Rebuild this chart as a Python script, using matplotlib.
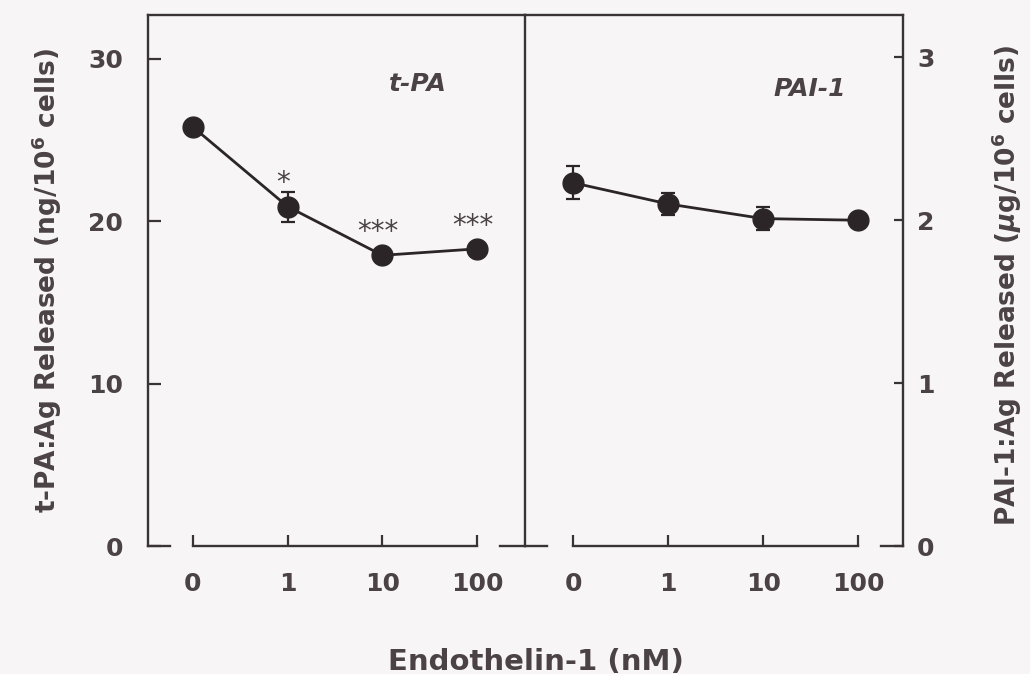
import matplotlib
matplotlib.use("Agg")
import matplotlib.pyplot as plt

# ---- data ----
conc_labels = ["0", "1", "10", "100"]
tpa_mean = [25.8, 20.9, 17.9, 18.3]
tpa_sem = [0.3, 0.92, 0.3, 0.25]
tpa_sig = ["", "*", "***", "***"]
pai_mean = [2.23, 2.10, 2.01, 2.00]
pai_sem = [0.10, 0.07, 0.07, 0.03]
tpa_yticks = [0, 10, 20, 30]
pai_yticks = [0, 1, 2, 3]

BG = "#f7f5f5"
TXT = "#4a4245"
LINE = "#3a3335"
MARK = "#2b2527"

plt.rcParams["font.family"] = ["DejaVu Sans"]
plt.rcParams["font.weight"] = "bold"

fig = plt.figure(figsize=(10.30, 6.74), dpi=100, facecolor=BG)
W, H = 1030, 674
x_left, x_mid, x_right = 148, 525, 903
y_top, y_bot = 15, 546
ax1 = fig.add_axes([x_left / W, 1 - y_bot / H, (x_mid - x_left) / W, (y_bot - y_top) / H])
ax2 = fig.add_axes([x_mid / W, 1 - y_bot / H, (x_right - x_mid) / W, (y_bot - y_top) / H])

xpos = list(range(len(conc_labels)))

for ax in (ax1, ax2):
    ax.set_facecolor("none")
    for s in ax.spines.values():
        s.set_color(LINE)
        s.set_linewidth(1.7)
    ax.spines["bottom"].set_visible(False)
    ax.set_xticks(xpos)
    ax.set_xticklabels(conc_labels)
    ax.tick_params(axis="x", direction="in", length=8, width=1.6, color=LINE,
                   labelsize=18, labelcolor=TXT, pad=19)

# left panel
ax1.set_xlim(-0.475, 3.506)
ax1.set_ylim(0, 32.7)
ax1.set_yticks(tpa_yticks)
ax1.tick_params(axis="y", direction="in", length=9.5, width=1.6, color=LINE,
                labelsize=18, labelcolor=TXT, pad=18)
ax1.errorbar(xpos, tpa_mean, yerr=tpa_sem, fmt="o-", color=MARK, ms=15,
             lw=2.0, elinewidth=1.6, capsize=5, capthick=1.6, zorder=3)
for i, (m, s) in enumerate(zip(tpa_mean, tpa_sig)):
    if s:
        ax1.annotate(s, xy=(i, m), xytext=(-3, 11), textcoords="offset points",
                     ha="center", va="baseline", fontsize=20, fontweight="normal",
                     color=TXT)
ax1.text(0.716, 0.87, "t-PA", transform=ax1.transAxes, ha="center", va="center",
         fontsize=18, fontweight="bold", fontstyle="italic", color=TXT)

# right panel
ax2.set_xlim(-0.505, 3.47)
ax2.set_ylim(0, 3.26)
ax2.spines["left"].set_visible(False)
ax2.yaxis.tick_right()
ax2.set_yticks(pai_yticks)
ax2.tick_params(axis="y", direction="in", length=6.5, width=1.6, color=LINE,
                labelsize=18, labelcolor=TXT, pad=10)
ax2.errorbar(xpos, pai_mean, yerr=pai_sem, fmt="o-", color=MARK, ms=15,
             lw=2.0, elinewidth=1.6, capsize=5, capthick=1.6, zorder=3)
ax2.text(0.754, 0.86, "PAI-1", transform=ax2.transAxes, ha="center", va="center",
         fontsize=18, fontweight="bold", fontstyle="italic", color=TXT)

# broken bottom axis segments
def seg(ax, a, b):
    ax.plot([a, b], [0, 0], transform=ax.get_xaxis_transform(), color=LINE,
            lw=1.7, clip_on=False, solid_capstyle="projecting", zorder=4)

lo1, hi1 = ax1.get_xlim()
seg(ax1, lo1, -0.243)
seg(ax1, 0, 3)
seg(ax1, 3.24, hi1)
lo2, hi2 = ax2.get_xlim()
seg(ax2, lo2, -0.27)
seg(ax2, 0, 3)
seg(ax2, 3.24, hi2)

# axis labels
fig.text(47 / W, 1 - 280 / H, r"t-PA:Ag Released (ng/10$^{\mathbf{6}}$ cells)",
         rotation=90, ha="center", va="center", fontsize=19, color=TXT)
fig.text(1007 / W, 1 - 285 / H, r"PAI-1:Ag Released ($\mu$g/10$^{\mathbf{6}}$ cells)",
         rotation=90, ha="center", va="center", fontsize=19, color=TXT)
fig.text(536 / W, 1 - 670 / H, "Endothelin-1 (nM)", ha="center", va="baseline",
         fontsize=21, color=TXT)

fig.savefig("out.png", dpi=100, facecolor=BG)
